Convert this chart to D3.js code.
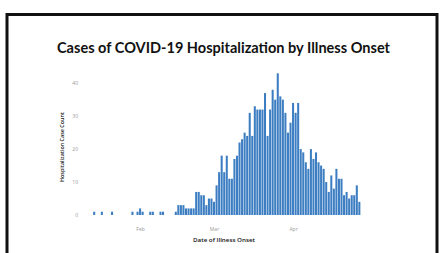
<!DOCTYPE html>
<html>
<head>
<meta charset="utf-8">
<script src="https://cdn.jsdelivr.net/npm/d3@7"></script>
<style>
  body { margin: 0; background: #fff; }
  svg { display: block; }
</style>
</head>
<body>
<div id="chart"></div>
<script>
var svgWidth = 444;
var svgHeight = 253;

// daily hospitalization counts by illness onset, starting Jan 14 2020
var firstDay = "2020-01-14";
var counts = [
    1, 0, 0, 1, 0, 0, 0, 1, 0, 0, 0, 0, 0, 0, 0, 1, 0, 1, 2, 1,   // Jan 14 - Feb 2
    0, 0, 1, 1, 0, 0, 1, 1, 0, 0, 0, 0,                            // Feb 3 - Feb 14
    1, 3, 3, 3, 2, 2, 2, 2, 7, 7, 6, 6, 3, 5, 5, 4, 9, 13, 18, 13, // Feb 15 -
    18, 11, 11, 17, 18, 22, 23, 25, 24, 31, 24, 33, 32, 32, 32, 37, 24, 32, 38, 35,
    43, 36, 35, 31, 25, 28, 34, 31, 34,
    20, 19, 16, 14, 20, 17, 19, 16, 15, 14, 10, 7, 12, 8, 14, 11, 11, 6, 7, 5, 6, 6, 9, 4
];
var yTicks = [0, 10, 20, 30, 40];
var xTicks = ["2020-02-01", "2020-03-01", "2020-04-01"];
var xTickLabels = ["Feb", "Mar", "Apr"];

var parseDay = d3.timeParse("%Y-%m-%d");
var start = parseDay(firstDay);
var data = counts.map(function (c, i) {
    return { date: d3.timeDay.offset(start, i), count: c };
});

var margin = { top: 70, right: 77, bottom: 38, left: 84 };
var width = svgWidth - margin.left - margin.right;
var height = svgHeight - margin.top - margin.bottom;

var svg = d3.select("#chart")
    .append("svg")
    .attr("width", svgWidth)
    .attr("height", svgHeight);

svg.append("rect")
    .attr("width", svgWidth)
    .attr("height", svgHeight)
    .attr("fill", "#fff");

// black frame around the figure
svg.append("rect")
    .attr("x", 7)
    .attr("y", 14.5)
    .attr("width", 430)
    .attr("height", 260)
    .attr("fill", "#fff")
    .attr("stroke", "#111")
    .attr("stroke-width", 3);

var chart = svg.append("g")
    .attr("transform", `translate(${margin.left}, ${margin.top})`);

var xscale = d3.scaleTime()
    .domain([parseDay("2020-01-10"), parseDay("2020-04-30")])
    .range([0, width]);

var yscale = d3.scaleLinear()
    .domain([0, 44])
    .range([height, 0]);

var dayW = xscale(parseDay("2020-01-11")) - xscale(parseDay("2020-01-10"));

chart.selectAll("rect.bar")
    .data(data.filter(d => d.count > 0))
    .enter()
    .append("rect")
    .attr("class", "bar")
    .attr("x", d => xscale(d.date) - dayW / 2 + 0.25)
    .attr("y", d => yscale(d.count))
    .attr("width", dayW - 0.5)
    .attr("height", d => yscale(0) - yscale(d.count))
    .attr("fill", "#3d7ec2");

// axes (no domain line, just labels)
var yAxis = d3.axisLeft(yscale).tickValues(yTicks).tickSize(0).tickPadding(6);
var xAxis = d3.axisBottom(xscale)
    .tickValues(xTicks.map(parseDay))
    .tickFormat((d, i) => xTickLabels[i])
    .tickSize(0).tickPadding(12);

chart.append("g")
    .attr("class", "axis")
    .call(yAxis);

chart.append("g")
    .attr("class", "axis")
    .attr("transform", `translate(0, ${height})`)
    .call(xAxis);

chart.selectAll(".axis .domain").remove();
chart.selectAll(".axis text")
    .style("font", "5px 'Open Sans', sans-serif")
    .style("fill", "#999");

// title
svg.append("text")
    .attr("x", 223.5)
    .attr("y", 52.5)
    .attr("text-anchor", "middle")
    .attr("textLength", 333)
    .attr("lengthAdjust", "spacingAndGlyphs")
    .style("font", "bold 14.5px Lato, sans-serif")
    .style("fill", "#111")
    .text("Cases of COVID-19 Hospitalization by Illness Onset");

// x/y labels
svg.append("text")
    .attr("transform", "rotate(-90)")
    .attr("x", -147)
    .attr("y", 64)
    .attr("text-anchor", "middle")
    .attr("textLength", 70)
    .attr("lengthAdjust", "spacingAndGlyphs")
    .style("font", "600 6px 'Open Sans', sans-serif")
    .style("fill", "#111")
    .text("Hospitalization Case Count");

svg.append("text")
    .attr("x", 224)
    .attr("y", 242)
    .attr("text-anchor", "middle")
    .attr("textLength", 62)
    .attr("lengthAdjust", "spacingAndGlyphs")
    .style("font", "600 6px 'Open Sans', sans-serif")
    .style("fill", "#111")
    .text("Date of Illness Onset");
</script>
</body>
</html>
